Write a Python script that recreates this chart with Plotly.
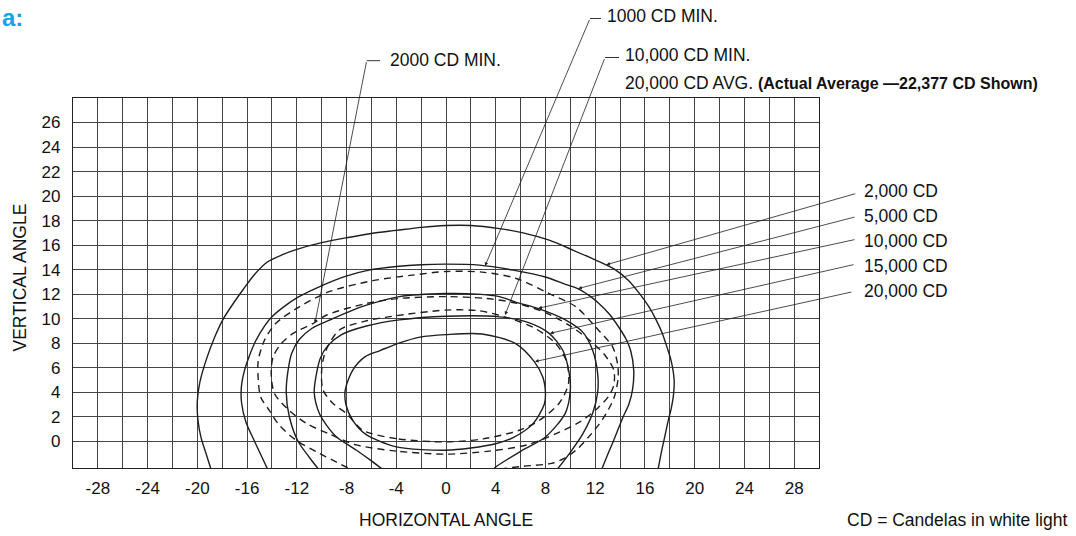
import plotly.graph_objects as go

FONT = "Liberation Sans, Arial, Helvetica, sans-serif"
INK = "#1e1e1e"
GRID = "#454545"

# ---------------- data ----------------
x_tick_labels = [-28, -24, -20, -16, -12, -8, -4, 0, 4, 8, 12, 16, 20, 24, 28]
y_tick_labels = [0, 2, 4, 6, 8, 10, 12, 14, 16, 18, 20, 22, 24, 26]

# 2,000 CD isocandela (outer solid)
c2000_x = [-18.8, -19.3, -19.7, -19.95, -20.0, -19.8, -19.3, -18.6, -17.9, -17.0, -16.3, -15.4, -14.4,
           -13.2, -12.0, -10.0, -8.0, -6.0, -4.0, -2.0, 0.0, 2.0, 4.3, 6.2, 8.3, 10.2, 12.0, 13.6,
           14.7, 15.6, 16.3, 16.9, 17.4, 17.8, 18.1, 18.35, 18.3, 18.1, 17.9, 17.6, 17.3, 17.0]
c2000_y = [-2.6, -1.0, 0.3, 1.7, 3.3, 4.8, 6.6, 8.5, 10.0, 11.4, 12.4, 13.6, 14.6,
           15.2, 15.65, 16.2, 16.6, 16.95, 17.2, 17.45, 17.6, 17.6, 17.35, 17.0, 16.4, 15.6, 14.8, 14.0,
           13.1, 12.0, 11.0, 9.9, 8.8, 7.6, 6.6, 5.0, 3.8, 2.6, 1.8, 0.4, -1.0, -2.6]

# 5,000 CD
c5000_x = [-14.2, -14.8, -15.4, -16.1, -16.45, -16.45, -16.2, -15.84, -15.3, -14.6, -14.0, -13.0,
           -11.9, -10.2, -8.1, -6.2, -4.0, -2.0, 0.0, 2.7, 5.4, 8.0, 9.6, 10.6, 11.5, 12.3, 13.2,
           13.9, 14.5, 14.85, 15.1, 15.0, 14.7, 14.25, 13.5, 13.0, 12.4]
c5000_y = [-2.6, -1.3, 0.0, 1.6, 3.2, 4.5, 5.8, 6.9, 8.2, 9.4, 10.15, 11.0,
           11.75, 12.6, 13.45, 13.96, 14.25, 14.4, 14.45, 14.37, 13.96, 13.4, 12.8, 12.46, 11.9, 11.24, 10.3,
           9.3, 8.3, 7.4, 5.8, 4.2, 3.0, 2.0, 0.1, -1.1, -2.6]

# 10,000 CD
c10000_x = [-10.0, -11.0, -11.9, -12.6, -12.85, -12.7, -12.4, -11.8, -10.8, -9.1, -7.5, -6.4, -3.75,
            0.0, 2.5, 4.3, 5.6, 7.5, 9.6, 11.0, 11.8, 12.2, 12.2, 11.8, 11.0, 10.0, 8.7]
c10000_y = [-2.6, -1.3, 0.0, 2.0, 4.0, 5.8, 7.2, 8.3, 9.2, 10.0, 10.7, 11.1, 11.8,
            12.05, 12.0, 11.8, 11.35, 10.8, 9.9, 8.9, 7.4, 5.5, 4.0, 2.3, 0.6, -0.9, -2.6]

# 15,000 CD
c15000_x = [-4.7, -6.0, -7.2, -8.8, -9.6, -10.2, -10.6, -10.4, -10.1, -9.5, -8.4, -6.4, -3.75, 0.0,
            4.3, 6.6, 8.3, 9.4, 9.9, 10.0, 9.6, 8.0, 6.15, 4.0, 3.5]
c15000_y = [-2.6, -1.6, -0.73, 0.35, 1.3, 2.3, 4.0, 5.6, 6.8, 7.8, 8.7, 9.4, 9.9, 10.2,
            10.15, 9.7, 8.8, 7.4, 5.6, 4.2, 2.3, 0.35, -0.73, -2.1, -2.6]

# 20,000 CD (closed)
c20000_x = [0.0, -4.0, -6.5, -7.5, -8.05, -8.1, -7.5, -6.5, -5.3, -3.9, -2.1, 0.0, 2.9, 5.6, 7.1,
            7.8, 8.0, 7.9, 7.0, 5.4, 4.0, 2.0, 0.0]
c20000_y = [-0.73, -0.46, 0.6, 1.7, 3.0, 4.2, 5.8, 6.9, 7.4, 7.97, 8.5, 8.7, 8.75, 7.97, 6.5,
            5.2, 3.8, 3.0, 1.44, 0.3, -0.2, -0.55, -0.73]

# 1000 CD MIN. (outer dashed)
min1000_x = [-6.0, -7.8, -8.8, -10.4, -12.05, -13.4, -14.2, -14.9, -15.1, -15.1, -14.6, -13.7, -11.8,
             -9.4, -5.9, -2.7, 0.0, 2.9, 5.6, 8.3, 10.45, 12.05, 13.4, 13.8, 13.85, 13.5, 12.6, 11.6,
             10.6, 9.5, 8.5, 6.2, 4.0, 2.0]
min1000_y = [-2.45, -2.18, -1.7, -0.87, 0.08, 1.3, 2.5, 3.6, 5.0, 6.6, 8.24, 9.6, 10.97,
             12.2, 13.1, 13.55, 13.85, 13.8, 13.3, 12.05, 10.97, 9.3, 7.7, 6.3, 5.2, 3.5, 1.8, 0.5,
             -0.6, -1.4, -1.8, -2.04, -2.3, -2.5]

# 2000 CD MIN. (closed dashed)
min2000_x = [0.0, -4.0, -7.2, -9.4, -11.2, -12.6, -13.8, -14.06, -13.9, -13.3, -12.3, -10.7, -9.6,
             -6.4, -3.75, 0.0, 3.2, 5.5, 8.0, 10.0, 11.6, 12.8, 13.5, 13.5, 13.1, 12.2, 10.8, 8.8,
             6.5, 3.5, 0.0]
min2000_y = [-1.05, -0.8, -0.3, 0.6, 1.44, 2.5, 3.9, 5.6, 6.9, 7.9, 8.8, 9.6, 10.3,
             11.24, 11.65, 11.8, 11.65, 11.3, 10.5, 9.4, 8.2, 7.0, 5.8, 4.6, 3.7, 2.7, 1.6, 0.6,
             -0.3, -0.8, -1.05]

# 10,000 CD MIN. (closed dashed)
min10000_x = [0.0, -4.0, -6.7, -8.0, -9.1, -9.9, -10.0, -9.7, -8.6, -6.5, -4.3, 0.0, 2.65, 4.7,
              7.0, 8.8, 9.7, 9.85, 9.1, 7.5, 5.9, 3.0, 0.0]
min10000_y = [-0.05, 0.22, 0.9, 2.26, 3.1, 4.2, 5.8, 7.3, 9.06, 9.8, 10.2, 10.7, 10.65, 10.15,
              9.3, 8.0, 6.5, 4.7, 3.1, 1.7, 0.9, 0.2, -0.05]

curves = [
    ("2,000 CD", c2000_x, c2000_y, "solid"),
    ("5,000 CD", c5000_x, c5000_y, "solid"),
    ("10,000 CD", c10000_x, c10000_y, "solid"),
    ("15,000 CD", c15000_x, c15000_y, "solid"),
    ("20,000 CD", c20000_x, c20000_y, "solid"),
    ("1000 CD MIN.", min1000_x, min1000_y, "7px,5px"),
    ("2000 CD MIN.", min2000_x, min2000_y, "7px,5px"),
    ("10,000 CD MIN.", min10000_x, min10000_y, "7px,5px"),
]

right_labels = ["2,000 CD", "5,000 CD", "10,000 CD", "15,000 CD", "20,000 CD"]
# arrow targets on the isocandela curves (data coords)
right_targets = [(12.9, 14.4), (10.64, 12.46), (7.42, 10.85), (8.36, 8.8), (7.16, 6.5)]

# ---------------- geometry helpers (page pixels) ----------------
W, H = 1076, 536
L, R, T, B = 73, 819, 98, 468
XR = (-30, 30)
YR = (-2.18, 28)


def px_paper(px, py):
    return (px - L) / (R - L), (B - py) / (B - T)


def data_px(x, y):
    return (L + (x - XR[0]) / (XR[1] - XR[0]) * (R - L),
            T + (YR[1] - y) / (YR[1] - YR[0]) * (B - T))


fig = go.Figure()
for name, xs, ys, dash in curves:
    fig.add_trace(go.Scatter(x=xs, y=ys, mode="lines", name=name,
                             line=dict(color=INK, width=1.4, dash=dash, shape="spline", smoothing=0.8),
                             hoverinfo="skip", showlegend=False))

annotations = []
shapes = []


def arrow(tail_px, head_xy):
    hx, hy = data_px(*head_xy)
    annotations.append(dict(x=head_xy[0], y=head_xy[1], xref="x", yref="y",
                            ax=tail_px[0] - hx, ay=tail_px[1] - hy, axref="pixel", ayref="pixel",
                            text="", showarrow=True, arrowhead=2, arrowsize=0.9, arrowwidth=0.8,
                            arrowcolor=INK, standoff=0, startstandoff=0))


def label(text, px, py, size=17.5, xanchor="left", angle=0, color="#111111"):
    xp, yp = px_paper(px, py)
    annotations.append(dict(x=xp, y=yp, xref="paper", yref="paper", text=text, showarrow=False,
                            xanchor=xanchor, yanchor="middle", textangle=angle,
                            font=dict(family=FONT, size=size, color=color)))


def dash_line(p0, p1):
    x0, y0 = px_paper(*p0)
    x1, y1 = px_paper(*p1)
    shapes.append(dict(type="line", xref="paper", yref="paper", x0=x0, y0=y0, x1=x1, y1=y1,
                       line=dict(color=INK, width=0.9)))


# right-hand labels
tails = [(856.7, 193.3), (856, 216.7), (856, 239.3), (855, 264.3), (853, 291.7)]
for i, (txt, tgt) in enumerate(zip(right_labels, right_targets)):
    label(txt, 861.7, 190.7 + 25 * i)
    arrow(tails[i], tgt)

# top labels
label("1000 CD MIN.", 605, 16.5)
dash_line((590, 18.5), (601, 18.5))
arrow((590, 18.5), (3.14, 14.3))

label("10,000 CD MIN.", 622.7, 55)
dash_line((605, 57.5), (619, 57.5))
arrow((605, 57.5), (4.75, 10.3))
label("20,000 CD AVG. <span style='font-size:16px'><b>(Actual Average \u201422,377 CD Shown)</b></span>",
      622.7, 83)

label("2000 CD MIN.", 388.3, 60)
dash_line((366.7, 60.7), (380, 60.7))
arrow((366.7, 60.7), (-10.54, 9.64))

# axis titles and notes
label("HORIZONTAL ANGLE", 446, 520, xanchor="center")
label("VERTICAL ANGLE", 19, 277.5, xanchor="center", angle=-90)
label("CD = Candelas in white light", 1069, 520, xanchor="right")
label("<b>a:</b>", 0, 17, size=24, color="#16a3e6")

fig.update_layout(
    width=W, height=H,
    margin=dict(l=L, r=W - R, t=T, b=H - B, autoexpand=False),
    paper_bgcolor="white", plot_bgcolor="white",
    font=dict(family=FONT, size=17, color="#111111"),
    annotations=annotations, shapes=shapes,
    xaxis=dict(range=list(XR), tickvals=x_tick_labels, ticktext=[str(v) for v in x_tick_labels],
               showgrid=True, gridcolor=GRID, gridwidth=1,
               minor=dict(dtick=2, tick0=0, showgrid=True, gridcolor=GRID, gridwidth=1),
               showline=True, mirror=True, linecolor="#222222", linewidth=1.2,
               zeroline=False, ticks="", ticklabelstandoff=4, automargin=False,
               tickfont=dict(family=FONT, size=17, color="#111111"), fixedrange=True),
    yaxis=dict(range=list(YR), tickvals=y_tick_labels, ticktext=[str(v) for v in y_tick_labels],
               showgrid=True, gridcolor=GRID, gridwidth=1,
               showline=True, mirror=True, linecolor="#222222", linewidth=1.2,
               zeroline=False, ticks="", ticklabelstandoff=8, automargin=False,
               tickfont=dict(family=FONT, size=17, color="#111111"), fixedrange=True),
)

fig.write_html("out.html", config={"displayModeBar": False},
               post_script="document.body.style.margin='0';document.body.style.overflow='hidden';")
